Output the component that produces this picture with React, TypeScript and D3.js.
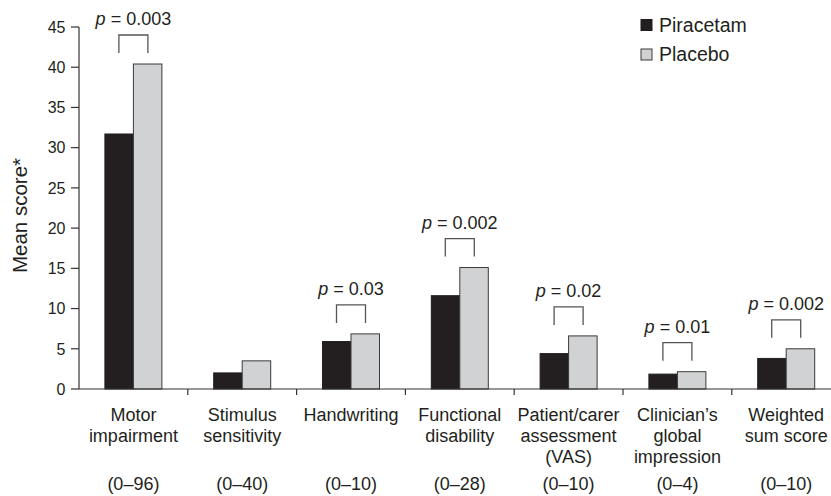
import React from "react";
import * as d3 from "d3";

const categories = [
  "Motor impairment",
  "Stimulus sensitivity",
  "Handwriting",
  "Functional disability",
  "Patient/carer assessment (VAS)",
  "Clinician’s global impression",
  "Weighted sum score",
];
const categoryLines = [
  ["Motor", "impairment"],
  ["Stimulus", "sensitivity"],
  ["Handwriting"],
  ["Functional", "disability"],
  ["Patient/carer", "assessment", "(VAS)"],
  ["Clinician’s", "global", "impression"],
  ["Weighted", "sum score"],
];
const ranges = ["(0–96)", "(0–40)", "(0–10)", "(0–28)", "(0–10)", "(0–4)", "(0–10)"];
const seriesNames = ["Piracetam", "Placebo"];
const piracetam = [31.7, 2.0, 5.9, 11.6, 4.4, 1.85, 3.8];
const placebo = [40.4, 3.5, 6.85, 15.1, 6.6, 2.15, 5.0];
const pValues = ["0.003", null, "0.03", "0.002", "0.02", "0.01", "0.002"];
const yTicks = [0, 5, 10, 15, 20, 25, 30, 35, 40, 45];

const W = 831;
const H = 496;
const left = 79;
const bottom = 389;
const top = 27;
const bandW = 108.8;
const textColor = "#231f20";
const colors = ["#231f20", "#d1d2d4"];
const font = "'Liberation Sans', Arial, Helvetica, sans-serif";

export default function App() {
  const x = d3
    .scaleBand<string>()
    .domain(categories)
    .range([left, left + bandW * categories.length])
    .padding(0);
  const y = d3.scaleLinear().domain([0, 45]).range([bottom, top]);
  const barW = 28.5;
  const inner = d3
    .scaleBand<string>()
    .domain(seriesNames)
    .range([-barW, barW])
    .padding(0);
  const series = [piracetam, placebo];

  return (
    <svg
      width={W}
      height={H}
      style={{ position: "absolute", left: 0, top: 0, background: "#fff" }}
      fontFamily={font}
    >
      {/* bars */}
      {categories.map((c, i) => {
        const cx = (x(c) as number) + x.bandwidth() / 2;
        return (
          <g key={c}>
            {series.map((s, j) => (
              <rect
                key={j}
                x={cx + (inner(seriesNames[j]) as number)}
                y={y(s[i])}
                width={inner.bandwidth()}
                height={bottom - y(s[i])}
                fill={colors[j]}
                stroke={j === 1 ? "#3a3a3a" : colors[0]}
                strokeWidth={1}
              />
            ))}
          </g>
        );
      })}
      {/* axes */}
      <line x1={left} x2={W} y1={bottom} y2={bottom} stroke="#333" strokeWidth={1.2} />
      <line x1={left} x2={left} y1={bottom} y2={top} stroke="#333" strokeWidth={1.2} />
      {yTicks.map((t) => (
        <g key={t}>
          <line x1={left - 8} x2={left} y1={y(t)} y2={y(t)} stroke="#333" strokeWidth={1.2} />
          <text
            x={65.5}
            y={y(t)}
            dy="0.36em"
            textAnchor="end"
            fontSize={16}
            fill={textColor}
          >
            {t}
          </text>
        </g>
      ))}
      {categories.map((c) => (
        <line
          key={c}
          x1={(x(c) as number) + bandW}
          x2={(x(c) as number) + bandW}
          y1={bottom}
          y2={bottom + 6}
          stroke="#333"
          strokeWidth={1.2}
        />
      ))}
      {/* category labels */}
      {categories.map((c, i) => {
        const cx = (x(c) as number) + x.bandwidth() / 2;
        return (
          <g key={c} fontSize={18} fill={textColor} textAnchor="middle">
            {categoryLines[i].map((ln, k) => (
              <text key={k} x={cx} y={420.7 + k * 21}>
                {ln}
              </text>
            ))}
            <text x={cx} y={490}>
              {ranges[i]}
            </text>
          </g>
        );
      })}
      {/* p-value brackets */}
      {categories.map((c, i) => {
        const p = pValues[i];
        if (!p) return null;
        const cx = (x(c) as number) + x.bandwidth() / 2;
        const x1 = cx - 14.5;
        const x2 = cx + 14.5;
        const yb = y(Math.max(piracetam[i], placebo[i])) - 11;
        const yt = yb - 18;
        return (
          <g key={c}>
            <path
              d={`M${x1},${yb}V${yt}H${x2}V${yb}`}
              fill="none"
              stroke="#555"
              strokeWidth={1.3}
            />
            <text x={cx} y={yt - 10} textAnchor="middle" fontSize={18} fill={textColor}>
              <tspan fontStyle="italic">p</tspan>
              <tspan>{` = ${p}`}</tspan>
            </text>
          </g>
        );
      })}
      {/* y label */}
      <text
        transform={`translate(27, ${(158 + 273) / 2}) rotate(-90)`}
        textAnchor="middle"
        fontSize={20.5}
        fill={textColor}
      >
        Mean score*
      </text>
      {/* legend */}
      {seriesNames.map((n, j) => (
        <g key={n} transform={`translate(641, ${19.5 + j * 29.5})`}>
          <rect
            width={11}
            height={11}
            fill={colors[j]}
            stroke={j === 1 ? "#3a3a3a" : colors[0]}
            strokeWidth={1}
          />
          <text x={18} y={12} fontSize={19.5} fill={textColor}>
            {n}
          </text>
        </g>
      ))}
    </svg>
  );
}
